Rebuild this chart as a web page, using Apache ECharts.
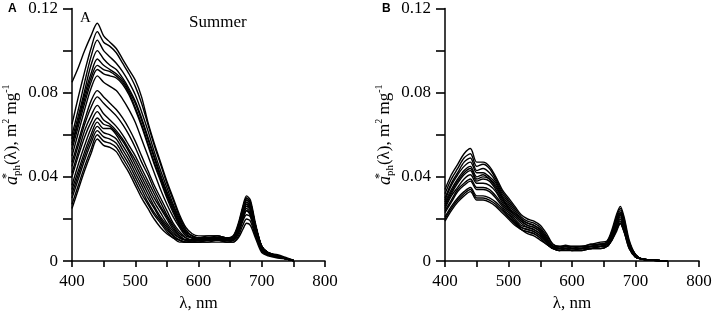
<!DOCTYPE html>
<html>
<head>
<meta charset="utf-8">
<script src="https://cdn.jsdelivr.net/npm/echarts@6/dist/echarts.min.js"></script>
<style>
  html, body { margin: 0; padding: 0; background: #fff; }
  #chart { width: 716px; height: 317px; }
</style>
</head>
<body>
<div id="chart"></div>
<script>
// wavelength grid, nm
const wavelengths = [400, 410, 420, 430, 440, 450, 460, 470, 480, 490, 500, 510, 520, 530, 540, 550, 560, 570, 580, 590, 600,
  615, 630, 645, 655, 663, 670, 676, 682, 690, 700, 710, 725, 740, 750];

// panel A (summer) spectra, m2 mg-1
const summerSpectra = [
  [.085, .092, .100, .107, .113, .107, .104, .101, .096, .091, .086, .078, .066, .056, .047, .038, .030, .022, .016, .013, .012, .012, .012, .011, .012, .018, .026, .031, .029, .018, .007, .004, .003, .0015, .0005],
  [.065, .078, .090, .101, .109, .104, .102, .099, .094, .089, .083, .075, .065, .055, .046, .037, .029, .021, .015, .012, .011, .011, .012, .011, .012, .017, .025, .030, .028, .017, .007, .004, .0025, .0012, .0003],
  [.060, .072, .085, .097, .105, .100, .097, .094, .090, .085, .079, .071, .062, .052, .043, .035, .027, .020, .014, .012, .011, .011, .011, .011, .011, .016, .024, .029, .027, .017, .007, .004, .0025, .0012, .0003],
  [.058, .069, .081, .093, .100, .096, .093, .091, .087, .082, .076, .068, .059, .050, .041, .033, .026, .019, .014, .012, .011, .011, .011, .010, .011, .016, .023, .028, .026, .016, .006, .0035, .002, .001, .0003],
  [.056, .067, .079, .089, .096, .093, .091, .089, .086, .081, .075, .067, .058, .049, .040, .032, .025, .018, .013, .011, .011, .012, .012, .011, .011, .016, .024, .029, .027, .017, .007, .004, .0025, .0012, .0003],
  [.055, .066, .077, .087, .093, .091, .090, .088, .085, .080, .073, .065, .056, .047, .039, .031, .024, .017, .013, .011, .010, .011, .011, .011, .011, .017, .025, .030, .028, .017, .007, .004, .0025, .0012, .0003],
  [.053, .064, .075, .085, .091, .089, .088, .087, .084, .079, .072, .064, .055, .046, .038, .030, .023, .017, .013, .011, .010, .010, .011, .010, .010, .015, .022, .027, .025, .015, .006, .0035, .002, .001, .0003],
  [.050, .061, .072, .082, .088, .085, .083, .081, .077, .072, .066, .058, .050, .042, .034, .027, .021, .016, .012, .011, .010, .010, .010, .010, .010, .015, .022, .026, .025, .015, .006, .0035, .002, .001, .0003],
  [.047, .057, .067, .076, .081, .078, .075, .072, .068, .063, .057, .050, .043, .036, .030, .024, .018, .014, .011, .010, .010, .010, .010, .010, .010, .015, .021, .025, .023, .014, .006, .003, .002, .001, .0002],
  [.045, .055, .065, .073, .078, .075, .072, .069, .065, .060, .054, .047, .041, .034, .028, .022, .017, .013, .011, .010, .010, .011, .011, .010, .011, .016, .023, .028, .026, .016, .006, .0035, .002, .001, .0003],
  [.042, .052, .062, .069, .074, .070, .067, .064, .060, .055, .050, .044, .038, .032, .026, .021, .016, .012, .010, .010, .010, .010, .010, .010, .010, .014, .020, .024, .022, .014, .005, .003, .002, .001, .0002],
  [.040, .050, .059, .066, .071, .067, .065, .062, .058, .053, .048, .042, .036, .030, .025, .020, .015, .012, .010, .009, .009, .010, .010, .009, .010, .014, .020, .024, .022, .014, .005, .003, .002, .001, .0002],
  [.036, .046, .055, .063, .068, .065, .064, .061, .057, .052, .046, .040, .034, .028, .023, .018, .014, .011, .010, .010, .010, .011, .011, .011, .011, .015, .022, .027, .025, .015, .006, .003, .002, .001, .0002],
  [.034, .043, .052, .060, .066, .063, .063, .060, .055, .050, .044, .038, .032, .026, .021, .017, .013, .011, .010, .010, .010, .010, .011, .010, .010, .015, .022, .026, .024, .015, .006, .003, .002, .001, .0002],
  [.032, .041, .050, .058, .064, .061, .060, .058, .053, .048, .042, .036, .030, .025, .020, .016, .012, .010, .009, .009, .010, .010, .010, .010, .010, .014, .020, .024, .022, .014, .005, .003, .002, .001, .0002],
  [.030, .039, .048, .056, .062, .059, .058, .056, .051, .046, .040, .034, .028, .023, .019, .015, .012, .010, .009, .009, .009, .010, .010, .010, .010, .013, .019, .022, .021, .013, .005, .003, .002, .001, .0002],
  [.027, .036, .045, .053, .060, .057, .056, .054, .049, .044, .038, .032, .027, .022, .018, .014, .011, .010, .009, .009, .009, .009, .010, .009, .009, .012, .017, .020, .019, .012, .005, .003, .002, .001, .0002],
  [.025, .034, .043, .051, .058, .055, .054, .052, .047, .042, .036, .030, .025, .020, .016, .013, .011, .009, .009, .009, .009, .009, .009, .009, .009, .011, .015, .018, .017, .011, .004, .0025, .0015, .001, .0002]
];

// panel B spectra, m2 mg-1
const panelBSpectra = [
  [.034, .041, .046, .051, .0535, .047, .047, .045, .040, .034, .030, .026, .022, .020, .019, .017, .013, .008, .007, .0075, .007, .007, .008, .009, .0095, .015, .022, .026, .021, .010, .003, .001, .0005, .0002, 0],
  [.032, .039, .044, .049, .051, .045, .046, .044, .039, .033, .029, .025, .021, .019, .018, .016, .012, .008, .007, .007, .007, .007, .008, .008, .009, .014, .021, .025, .020, .009, .003, .001, .0005, .0002, 0],
  [.030, .037, .042, .047, .049, .043, .044, .042, .038, .032, .028, .024, .020, .018, .017, .015, .011, .007, .007, .007, .007, .007, .007, .008, .009, .014, .020, .024, .019, .009, .003, .001, .0005, .0002, 0],
  [.029, .036, .041, .045, .047, .042, .042, .040, .037, .031, .027, .023, .020, .018, .017, .015, .011, .007, .006, .007, .006, .007, .007, .008, .008, .013, .019, .023, .018, .008, .003, .001, .0005, .0002, 0],
  [.028, .034, .039, .043, .045, .040, .041, .039, .036, .030, .026, .022, .019, .017, .016, .014, .010, .007, .006, .007, .006, .006, .007, .008, .008, .013, .019, .023, .018, .008, .003, .001, .0005, .0002, 0],
  [.027, .033, .038, .042, .044, .039, .040, .039, .035, .030, .025, .022, .019, .017, .016, .014, .010, .007, .006, .006, .006, .006, .007, .007, .008, .013, .018, .022, .017, .008, .002, .001, .0005, .0002, 0],
  [.026, .032, .037, .041, .043, .038, .039, .038, .034, .029, .025, .021, .018, .016, .015, .013, .010, .007, .006, .006, .006, .006, .007, .007, .008, .012, .018, .022, .017, .008, .002, .001, .0005, .0002, 0],
  [.025, .031, .035, .039, .041, .037, .037, .036, .033, .028, .024, .020, .017, .016, .015, .013, .009, .007, .006, .006, .006, .006, .007, .007, .008, .012, .017, .021, .016, .007, .002, .001, .0005, .0002, 0],
  [.024, .029, .034, .037, .039, .035, .035, .034, .031, .027, .023, .019, .016, .015, .014, .012, .009, .006, .006, .006, .006, .006, .006, .007, .008, .011, .016, .020, .015, .007, .002, .001, .0005, .0002, 0],
  [.023, .028, .033, .036, .038, .034, .034, .033, .030, .026, .022, .019, .016, .015, .014, .012, .009, .006, .006, .006, .006, .006, .006, .007, .007, .011, .016, .019, .015, .007, .002, .001, .0005, .0002, 0],
  [.021, .026, .030, .033, .035, .031, .031, .030, .028, .025, .021, .018, .015, .014, .013, .011, .008, .006, .005, .006, .005, .006, .006, .007, .007, .011, .015, .018, .014, .007, .002, .001, .0005, .0002, 0],
  [.020, .025, .029, .032, .034, .030, .030, .029, .027, .024, .021, .018, .015, .014, .013, .011, .008, .006, .005, .006, .005, .005, .006, .006, .007, .010, .015, .018, .014, .006, .002, .001, .0005, .0002, 0],
  [.019, .024, .028, .031, .033, .029, .029, .028, .026, .023, .020, .017, .015, .013, .012, .010, .008, .006, .005, .005, .005, .005, .006, .006, .007, .010, .014, .018, .014, .006, .002, .001, .0005, .0002, 0]
];

const xTicks = [400, 500, 600, 700, 800];
const yTicks = [0, 0.04, 0.08, 0.12];

const serif = 'Liberation Serif';
const chart = echarts.init(document.getElementById('chart'));

function xAxis(gi) {
  return {
    type: 'value', gridIndex: gi, min: 400, max: 800, interval: 50,
    name: 'λ, nm', nameLocation: 'middle', nameGap: 32,
    nameTextStyle: { fontFamily: serif, fontSize: 17, color: '#000' },
    axisLine: { lineStyle: { color: '#000', width: 1.5 } },
    axisTick: { show: true, length: 6, lineStyle: { color: '#000', width: 1.6 } },
    axisLabel: {
      fontFamily: serif, fontSize: 17, color: '#000', margin: 12,
      formatter: v => xTicks.includes(v) ? String(v) : ''
    },
    splitLine: { show: false }
  };
}

function yAxis(gi) {
  return {
    type: 'value', gridIndex: gi, min: 0, max: 0.12, interval: 0.02,
    name: '{a|a}{s|*}{p|ph}{t|(λ), m}{u|2}{t| mg}{u|-1}',
    nameLocation: 'middle', nameGap: 49,
    nameTextStyle: {
      fontFamily: serif, fontSize: 17, color: '#000',
      rich: {
        a: { fontFamily: serif, fontSize: 18, fontStyle: 'italic', lineHeight: 22, verticalAlign: 'middle' },
        s: { fontFamily: serif, fontSize: 12, lineHeight: 12, verticalAlign: 'top', width: 0 },
        p: { fontFamily: serif, fontSize: 11, lineHeight: 10, verticalAlign: 'bottom' },
        t: { fontFamily: serif, fontSize: 17, lineHeight: 22, verticalAlign: 'middle' },
        u: { fontFamily: serif, fontSize: 10, lineHeight: 10, verticalAlign: 'top' }
      }
    },
    axisLine: { show: true, lineStyle: { color: '#000', width: 1.5 } },
    axisTick: { show: true, length: 9, lineStyle: { color: '#000', width: 1.6 } },
    axisLabel: {
      fontFamily: serif, fontSize: 17, color: '#000', margin: 14,
      formatter: v => {
        const k = Math.round(v * 100);
        if (k % 4 !== 0) return '';
        return k === 0 ? '0' : v.toFixed(2);
      }
    },
    splitLine: { show: false }
  };
}

function makeSeries(list, gi) {
  return list.map(c => ({
    type: 'line', xAxisIndex: gi, yAxisIndex: gi,
    data: wavelengths.map((w, i) => [w, c[i]]),
    showSymbol: false, smooth: 0.3, silent: true,
    lineStyle: { color: '#000', width: 1.4 }
  }));
}

chart.setOption({
  animation: false,
  backgroundColor: '#fff',
  grid: [
    { left: 72, top: 8, width: 253, height: 255 },
    { left: 445, top: 8, width: 254, height: 255 }
  ],
  xAxis: [xAxis(0), xAxis(1)],
  yAxis: [yAxis(0), yAxis(1)],
  series: [...makeSeries(summerSpectra, 0), ...makeSeries(panelBSpectra, 1)],
  graphic: [
    { type: 'text', left: 8, top: 3, style: { text: 'A', font: 'bold 12px "Liberation Sans"', fill: '#000' } },
    { type: 'text', left: 382, top: 3, style: { text: 'B', font: 'bold 12px "Liberation Sans"', fill: '#000' } },
    { type: 'text', left: 80, top: 11, style: { text: 'A', font: '15px "Liberation Serif"', fill: '#000' } },
    { type: 'text', left: 189, top: 14, style: { text: 'Summer', font: '17px "Liberation Serif"', fill: '#000' } }
  ]
});
</script>
</body>
</html>
